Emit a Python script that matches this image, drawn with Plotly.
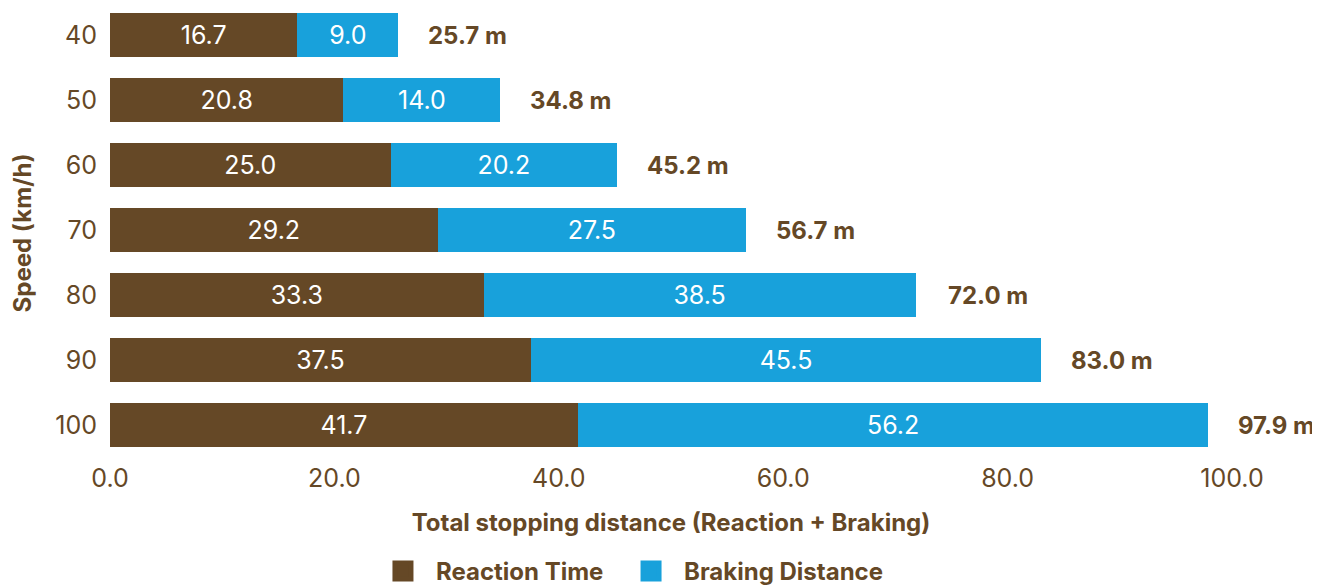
import plotly.graph_objects as go

speeds = ["40", "50", "60", "70", "80", "90", "100"]
reaction = [16.7, 20.8, 25.0, 29.2, 33.3, 37.5, 41.7]
braking = [9.0, 14.0, 20.2, 27.5, 38.5, 45.5, 56.2]
totals = [25.7, 34.8, 45.2, 56.7, 72.0, 83.0, 97.9]
tick_vals = [0, 20, 40, 60, 80, 100]
tick_text = ["0.0", "20.0", "40.0", "60.0", "80.0", "100.0"]

BROWN = "#654826"
BLUE = "#18A1DB"
FONT = "Inter"
FS = 24
NUM = 25

fig = go.Figure()
fig.add_trace(go.Bar(
    y=speeds, x=reaction, orientation="h", name="Reaction Time",
    marker=dict(color=BROWN, line=dict(width=0)),
    text=[f"{v:.1f}" for v in reaction], textposition="inside",
    insidetextanchor="middle", textangle=0,
    textfont=dict(color="white", size=NUM, family=FONT),
    showlegend=False, hoverinfo="skip",
))
fig.add_trace(go.Bar(
    y=speeds, x=braking, orientation="h", name="Braking Distance",
    marker=dict(color=BLUE, line=dict(width=0)),
    text=[f"{v:.1f}" for v in braking], textposition="inside",
    insidetextanchor="middle", textangle=0,
    textfont=dict(color="white", size=NUM, family=FONT),
    showlegend=False, hoverinfo="skip",
))
# legend proxies on a hidden axis pair, one legend each
for nm, col, lg in [("Reaction Time", BROWN, "legend"), ("Braking Distance", BLUE, "legend2")]:
    fig.add_trace(go.Scatter(
        x=[-10], y=[-10], mode="markers", name=nm, xaxis="x2", yaxis="y2", legend=lg,
        marker=dict(symbol="square", size=16, color=col, line=dict(color=col, width=5)),
        hoverinfo="skip",
    ))

# total labels (category axis: position by category index)
for i, t in enumerate(totals):
    fig.add_annotation(x=t, y=i, xref="x", yref="y", text=f"<b>{t:.1f} m</b>", showarrow=False,
                       xanchor="left", xshift=28,
                       font=dict(size=FS, color=BROWN, family=FONT))

leg_common = dict(orientation="h", y=-0.252, yanchor="middle", xanchor="left",
                  font=dict(size=FS, color=BROWN, family=FONT, weight="bold"),
                  itemsizing="trace", itemwidth=56, bgcolor="rgba(0,0,0,0)")

fig.update_layout(
    barmode="stack",
    bargap=0.323,
    width=1312, height=580,
    margin=dict(l=102, r=88, t=0, b=130, autoexpand=False),
    paper_bgcolor="white", plot_bgcolor="white",
    font=dict(family=FONT, color=BROWN, size=FS),
    uniformtext=dict(minsize=10, mode="show"),
    legend=dict(x=0.2317, **leg_common),
    legend2=dict(x=0.4528, **leg_common),
    xaxis=dict(range=[0, 100], tickvals=tick_vals, ticktext=tick_text, automargin=False,
               showgrid=False, zeroline=False, showline=False, ticklabelstandoff=3,
               tickfont=dict(size=NUM, color=BROWN),
               title=dict(text="<b>Total stopping distance (Reaction + Braking)</b>",
                          font=dict(size=FS, color=BROWN), standoff=22)),
    yaxis=dict(type="category", categoryorder="array", categoryarray=speeds,
               range=[6.5, -0.415], automargin=False,
               showgrid=False, zeroline=False, showline=False, ticklen=0,
               ticklabelstandoff=12,
               tickfont=dict(size=NUM, color=BROWN),
               title=dict(text="<b>Speed (km/h)</b>", font=dict(size=FS, color=BROWN), standoff=26)),
    xaxis2=dict(range=[0, 1], visible=False, overlaying="x", showgrid=False, zeroline=False,
                automargin=False),
    yaxis2=dict(range=[0, 1], visible=False, overlaying="y", showgrid=False, zeroline=False,
                automargin=False),
)

fig.write_html("out.html")
